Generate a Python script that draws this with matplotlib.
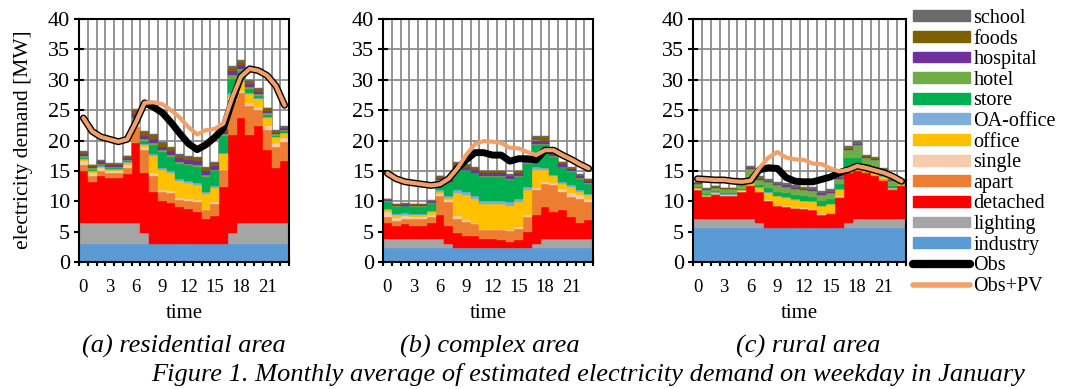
"""Stacked hourly electricity demand by sector, three areas, with Obs / Obs+PV lines."""

import matplotlib

matplotlib.use("Agg")
import matplotlib.pyplot as plt
from matplotlib.lines import Line2D
from matplotlib.patches import Patch

plt.rcParams["font.family"] = ["Liberation Serif", "DejaVu Serif"]

hours = list(range(24))
hour_ticks = [0, 3, 6, 9, 12, 15, 18, 21]
y_ticks = [0, 5, 10, 15, 20, 25, 30, 35, 40]

sectors = ["industry", "lighting", "detached", "apart", "single", "office",
           "OA-office", "store", "hotel", "hospital", "foods", "school"]
sector_colors = ["#5B9BD5", "#A5A5A5", "#FF0000", "#ED7D31", "#F8CBAD", "#FFC000",
                 "#7DAEDB", "#00B050", "#70AD47", "#7030A0", "#7F6000", "#6B6B6B"]

# --- (a) residential area -----------------------------------------------------
res_industry = [3.0, 3.0, 3.0, 3.0, 3.0, 3.0, 3.0, 3.0, 3.0, 3.0, 3.0, 3.0,
                3.0, 3.0, 3.0, 3.0, 3.0, 3.0, 3.0, 3.0, 3.0, 3.0, 3.0, 3.0]
res_lighting = [3.5, 3.5, 3.5, 3.5, 3.5, 3.5, 3.5, 1.7, 0.0, 0.0, 0.0, 0.0,
                0.0, 0.0, 0.0, 0.0, 0.0, 1.7, 3.5, 3.5, 3.5, 3.5, 3.5, 3.5]
res_detached = [8.4, 6.6, 7.6, 7.3, 7.3, 8.0, 13.1, 9.9, 8.6, 7.1, 6.7, 6.0,
                5.7, 5.3, 4.0, 4.5, 9.4, 16.2, 17.2, 14.4, 15.9, 11.9, 9.0, 10.2]
res_apart = [1.1, 1.1, 0.9, 0.8, 0.8, 1.0, 2.7, 3.9, 2.5, 1.4, 1.6, 1.2,
             1.4, 1.6, 1.5, 2.1, 2.7, 5.8, 4.1, 4.8, 2.6, 3.4, 3.5, 3.1]
res_single = [0.6, 0.5, 0.5, 0.4, 0.4, 0.5, 0.4, 0.4, 0.5, 0.4, 0.4, 0.3,
              0.3, 0.3, 0.3, 0.3, 0.2, 0.3, 0.4, 0.5, 0.5, 0.6, 0.6, 0.6]
res_office = [0.3, 0.2, 0.2, 0.2, 0.2, 0.3, 0.3, 0.4, 2.8, 3.3, 2.9, 2.8,
              2.6, 2.5, 2.4, 2.3, 2.4, 0.5, 1.4, 1.5, 1.3, 1.3, 0.9, 0.8]
res_oa = [0.1, 0.1, 0.1, 0.1, 0.1, 0.1, 0.1, 0.1, 0.3, 0.3, 0.3, 0.3,
          0.3, 0.3, 0.3, 0.3, 0.2, 0.3, 0.3, 0.2, 0.2, 0.2, 0.1, 0.1]
res_store = [0.2, 0.2, 0.2, 0.2, 0.2, 0.2, 0.3, 0.5, 1.5, 2.6, 2.4, 2.6,
             2.6, 2.7, 2.5, 2.4, 2.9, 2.4, 1.5, 0.6, 0.3, 0.3, 0.2, 0.2]
res_hotel = [0.3, 0.2, 0.2, 0.2, 0.2, 0.2, 0.3, 0.3, 0.4, 0.3, 0.3, 0.3,
             0.3, 0.3, 0.3, 0.3, 0.2, 0.5, 0.4, 0.3, 0.3, 0.3, 0.2, 0.2]
res_hospital = [0.3, 0.3, 0.3, 0.3, 0.3, 0.3, 0.6, 0.6, 0.7, 0.6, 0.6, 0.6,
                0.6, 0.6, 0.6, 0.6, 0.4, 0.7, 0.6, 0.5, 0.4, 0.4, 0.3, 0.3]
res_foods = [0.3, 0.2, 0.2, 0.2, 0.2, 0.3, 0.7, 0.6, 0.6, 0.6, 0.6, 0.5,
             0.5, 0.5, 0.5, 0.5, 0.4, 0.6, 0.6, 0.5, 0.5, 0.4, 0.3, 0.3]
res_school = [0.1, 0.1, 0.1, 0.1, 0.1, 0.1, 0.2, 0.2, 0.2, 0.2, 0.2, 0.2,
              0.2, 0.2, 0.2, 0.2, 0.1, 0.2, 0.2, 0.1, 0.1, 0.1, 0.1, 0.1]
res_obs = [23.7, 21.5, 20.6, 20.2, 19.8, 20.2, 23.0, 26.2, 25.5, 24.6, 23.0, 21.2,
           19.5, 18.5, 19.3, 20.5, 22.0, 26.5, 30.5, 31.8, 31.5, 30.7, 29.0, 25.8]
res_obs_pv = [23.7, 21.5, 20.6, 20.2, 19.8, 20.2, 23.0, 26.2, 26.3, 26.0, 25.0, 23.8,
              22.2, 21.0, 21.7, 21.9, 22.8, 27.0, 30.5, 31.8, 31.5, 30.7, 29.0, 25.8]

# --- (b) complex area ---------------------------------------------------------
cpx_industry = [2.3, 2.3, 2.3, 2.3, 2.3, 2.3, 2.3, 2.3, 2.3, 2.3, 2.3, 2.3,
                2.3, 2.3, 2.3, 2.3, 2.3, 2.3, 2.3, 2.3, 2.3, 2.3, 2.3, 2.3]
cpx_lighting = [1.55, 1.55, 1.55, 1.55, 1.55, 1.55, 1.55, 0.7, 0.0, 0.0, 0.0, 0.0,
                0.0, 0.0, 0.0, 0.0, 0.0, 0.7, 1.55, 1.55, 1.55, 1.55, 1.55, 1.55]
cpx_detached = [2.65, 2.05, 2.35, 2.15, 2.15, 2.55, 3.85, 2.9, 2.5, 2.0, 1.9, 1.55,
                1.55, 1.4, 1.0, 1.3, 2.6, 4.8, 5.25, 4.35, 4.75, 3.55, 2.65, 3.05]
cpx_apart = [0.9, 0.9, 0.9, 1.0, 1.0, 1.0, 3.1, 4.0, 2.3, 2.3, 2.0, 1.45,
             1.45, 1.6, 1.8, 1.9, 2.5, 4.0, 3.8, 4.4, 2.9, 3.3, 3.9, 3.0]
cpx_single = [0.8, 0.5, 0.4, 0.4, 0.4, 0.4, 0.4, 0.3, 0.4, 0.3, 0.3, 0.2,
              0.2, 0.2, 0.2, 0.3, 0.3, 0.4, 0.3, 0.4, 0.5, 0.6, 0.6, 0.5]
cpx_office = [0.3, 0.4, 0.3, 0.3, 0.3, 0.4, 0.3, 0.4, 3.8, 4.1, 3.9, 4.1,
              4.1, 4.1, 4.0, 4.0, 4.1, 2.9, 1.9, 1.1, 0.9, 1.0, 0.6, 0.6]
cpx_oa = [0.2, 0.2, 0.2, 0.2, 0.2, 0.2, 0.3, 0.3, 0.5, 0.5, 0.5, 0.5,
          0.5, 0.5, 0.5, 0.5, 0.5, 0.5, 0.4, 0.3, 0.3, 0.3, 0.2, 0.2]
cpx_store = [1.2, 1.2, 1.2, 1.2, 1.2, 1.2, 1.6, 2.2, 3.6, 3.6, 3.7, 3.9,
             3.9, 3.9, 3.7, 3.7, 3.9, 3.6, 3.7, 2.9, 2.4, 2.2, 1.9, 1.7]
cpx_hotel = [0.1, 0.1, 0.1, 0.1, 0.1, 0.1, 0.1, 0.1, 0.1, 0.1, 0.1, 0.1,
             0.1, 0.1, 0.1, 0.1, 0.1, 0.2, 0.2, 0.2, 0.1, 0.1, 0.1, 0.1]
cpx_hospital = [0.2, 0.2, 0.2, 0.2, 0.2, 0.2, 0.3, 0.4, 0.4, 0.5, 0.5, 0.5,
                0.5, 0.5, 0.5, 0.5, 0.5, 0.6, 0.6, 0.5, 0.4, 0.4, 0.3, 0.3]
cpx_foods = [0.1, 0.1, 0.1, 0.1, 0.1, 0.2, 0.3, 0.3, 0.4, 0.3, 0.3, 0.3,
             0.3, 0.3, 0.3, 0.3, 0.3, 0.5, 0.5, 0.4, 0.3, 0.2, 0.3, 0.3]
cpx_school = [0.1, 0.1, 0.1, 0.1, 0.1, 0.1, 0.1, 0.1, 0.1, 0.1, 0.1, 0.1,
              0.1, 0.1, 0.1, 0.1, 0.1, 0.2, 0.2, 0.1, 0.1, 0.1, 0.1, 0.1]
cpx_obs = [14.6, 13.7, 13.2, 13.0, 12.8, 12.6, 12.8, 13.7, 15.4, 16.8, 18.0, 18.0,
           17.6, 17.6, 16.6, 17.0, 17.0, 16.8, 18.4, 18.4, 17.6, 16.9, 16.1, 15.4]
cpx_obs_pv = [14.6, 13.7, 13.2, 13.0, 12.8, 12.6, 12.8, 13.7, 15.4, 17.6, 19.4, 19.9,
              19.8, 19.6, 18.8, 18.7, 18.1, 17.6, 18.4, 18.4, 17.6, 16.9, 16.1, 15.4]

# --- (c) rural area -----------------------------------------------------------
rur_industry = [5.65, 5.65, 5.65, 5.65, 5.65, 5.65, 5.65, 5.65, 5.65, 5.65, 5.65, 5.65,
                5.65, 5.65, 5.65, 5.65, 5.65, 5.65, 5.65, 5.65, 5.65, 5.65, 5.65, 5.65]
rur_lighting = [1.35, 1.35, 1.35, 1.35, 1.35, 1.35, 1.35, 0.7, 0.0, 0.0, 0.0, 0.0,
                0.0, 0.0, 0.0, 0.0, 0.0, 0.7, 1.35, 1.35, 1.35, 1.35, 1.35, 1.35]
rur_detached = [4.8, 3.7, 4.1, 3.8, 3.8, 4.5, 5.5, 5.15, 4.35, 3.55, 3.35, 3.15,
                3.05, 2.85, 2.05, 2.25, 4.95, 8.35, 8.0, 7.7, 7.1, 6.4, 4.9, 5.5]
rur_apart = [0.1, 0.1, 0.1, 0.1, 0.1, 0.1, 0.1, 0.1, 0.1, 0.1, 0.1, 0.1,
             0.1, 0.1, 0.1, 0.1, 0.1, 0.1, 0.1, 0.2, 0.2, 0.2, 0.1, 0.1]
rur_single = [0.1, 0.1, 0.1, 0.1, 0.1, 0.1, 0.1, 0.1, 0.1, 0.1, 0.1, 0.1,
              0.1, 0.1, 0.1, 0.1, 0.1, 0.1, 0.1, 0.1, 0.1, 0.1, 0.1, 0.1]
rur_office = [0.1, 0.1, 0.1, 0.1, 0.1, 0.1, 0.3, 0.5, 1.2, 1.4, 1.4, 1.2,
              1.1, 1.2, 1.3, 1.4, 1.1, 0.6, 0.9, 0.6, 0.7, 0.3, 0.1, 0.1]
rur_oa = [0.05, 0.05, 0.05, 0.05, 0.05, 0.05, 0.05, 0.1, 0.1, 0.1, 0.1, 0.1,
          0.1, 0.1, 0.1, 0.1, 0.1, 0.1, 0.1, 0.1, 0.1, 0.1, 0.05, 0.05]
rur_store = [0.2, 0.2, 0.2, 0.2, 0.2, 0.2, 0.3, 0.3, 0.6, 0.7, 0.7, 0.7,
             0.7, 0.7, 0.8, 0.8, 0.8, 1.5, 1.0, 0.4, 0.4, 0.2, 0.2, 0.2]
rur_hotel = [0.5, 0.6, 0.6, 0.6, 0.6, 0.6, 2.0, 0.9, 1.0, 1.0, 1.0, 1.0,
             1.0, 1.0, 1.0, 1.0, 0.9, 1.3, 2.0, 1.0, 1.2, 0.7, 0.9, 0.3]
rur_hospital = [0.1, 0.1, 0.1, 0.1, 0.1, 0.1, 0.2, 0.2, 0.2, 0.2, 0.2, 0.2,
                0.2, 0.2, 0.2, 0.2, 0.2, 0.2, 0.2, 0.2, 0.2, 0.2, 0.1, 0.1]
rur_foods = [0.1, 0.1, 0.1, 0.1, 0.1, 0.1, 0.1, 0.1, 0.1, 0.1, 0.1, 0.1,
             0.1, 0.1, 0.1, 0.1, 0.1, 0.1, 0.1, 0.1, 0.1, 0.1, 0.1, 0.1]
rur_school = [0.1, 0.1, 0.1, 0.1, 0.1, 0.1, 0.2, 0.3, 0.3, 0.3, 0.3, 0.3,
              0.3, 0.3, 0.3, 0.3, 0.3, 0.4, 0.4, 0.2, 0.2, 0.1, 0.1, 0.1]
rur_obs = [13.7, 13.6, 13.5, 13.5, 13.3, 13.2, 13.4, 15.2, 15.5, 15.4, 13.9, 13.3,
           13.2, 13.2, 13.6, 14.0, 14.7, 15.2, 15.8, 15.5, 15.1, 14.7, 14.1, 13.3]
rur_obs_pv = [13.7, 13.6, 13.5, 13.5, 13.3, 13.2, 13.4, 15.5, 17.2, 18.1, 17.2, 16.9,
              16.8, 16.2, 16.1, 15.4, 14.9, 15.2, 15.8, 15.5, 15.1, 14.7, 14.1, 13.3]

panels = [
    ("(a) residential area",
     [res_industry, res_lighting, res_detached, res_apart, res_single, res_office,
      res_oa, res_store, res_hotel, res_hospital, res_foods, res_school],
     res_obs, res_obs_pv),
    ("(b) complex area",
     [cpx_industry, cpx_lighting, cpx_detached, cpx_apart, cpx_single, cpx_office,
      cpx_oa, cpx_store, cpx_hotel, cpx_hospital, cpx_foods, cpx_school],
     cpx_obs, cpx_obs_pv),
    ("(c) rural area",
     [rur_industry, rur_lighting, rur_detached, rur_apart, rur_single, rur_office,
      rur_oa, rur_store, rur_hotel, rur_hospital, rur_foods, rur_school],
     rur_obs, rur_obs_pv),
]

OBS_COLOR = "black"
PV_COLOR = "#F3A068"
W, H = 1065, 389

# axes boxes in pixels: (left, right); all share top 19 / bottom 262
boxes = [(79, 289), (383, 593), (693, 906)]
caption_x = [184, 490, 808]

fig = plt.figure(figsize=(W / 100, H / 100), dpi=100)

for (title, layers, obs, obs_pv), (x0, x1), cx in zip(panels, boxes, caption_x):
    ax = fig.add_axes([x0 / W, 1 - 262 / H, (x1 - x0) / W, 243 / H])
    bottom = [0.0] * 24
    for vals, color in zip(layers, sector_colors):
        ax.bar(hours, vals, width=1.0, bottom=bottom, color=color,
               edgecolor=color, linewidth=0.3, zorder=2)
        bottom = [b + v for b, v in zip(bottom, vals)]
    ax.plot(hours, obs, color=OBS_COLOR, lw=5.0, zorder=4, solid_capstyle="round")
    ax.plot(hours, obs_pv, color=PV_COLOR, lw=3.0, zorder=5, solid_capstyle="round")

    ax.set_xlim(-0.5, 23.5)
    ax.set_ylim(0, 40)
    ax.set_xticks(hour_ticks)
    ax.set_xticks([h + 0.5 for h in range(-1, 24)], minor=True)
    ax.set_yticks(y_ticks)
    ax.tick_params(axis="x", which="major", length=0, labelsize=13.5, pad=12)
    ax.tick_params(axis="x", which="minor", direction="inout", length=6, width=1.5)
    ax.tick_params(axis="y", direction="inout", length=7, width=1.5, labelsize=16, pad=3)
    ax.grid(True, axis="y", which="major", color="#8C8C8C", lw=1.3)
    ax.grid(True, axis="x", which="minor", color="#8C8C8C", lw=1.3)
    ax.set_axisbelow(True)
    for sp in ax.spines.values():
        sp.set_linewidth(1.5)
        sp.set_zorder(6)

    fig.text((x0 + x1) / 2 / W, 1 - 313 / H, "time", ha="center", va="center", fontsize=15)
    fig.text(cx / W, 1 - 346 / H, title, ha="center", va="center",
             fontsize=19, style="italic")

fig.text(24 / W, 1 - 140 / H, "electricity demand [MW]", rotation=90,
         ha="center", va="center", fontsize=15.5)
fig.text(588 / W, 1 - 375 / H,
         "Figure 1. Monthly average of estimated electricity demand on weekday in January",
         ha="center", va="center", fontsize=19, style="italic")

handles = [Patch(color=c) for c in reversed(sector_colors)]
handles += [Line2D([], [], color=OBS_COLOR, lw=6, solid_capstyle="round"),
            Line2D([], [], color=PV_COLOR, lw=4, solid_capstyle="round")]
labels = list(reversed(sectors)) + ["Obs", "Obs+PV"]
fig.legend(handles, labels, loc="upper left", bbox_to_anchor=(913 / W, 1 - 9 / H),
           frameon=False, fontsize=14.5, handlelength=2.85, handleheight=0.45,
           handletextpad=0.15, labelspacing=0.08, borderpad=0, borderaxespad=0)

fig.savefig("out.png", dpi=100)
